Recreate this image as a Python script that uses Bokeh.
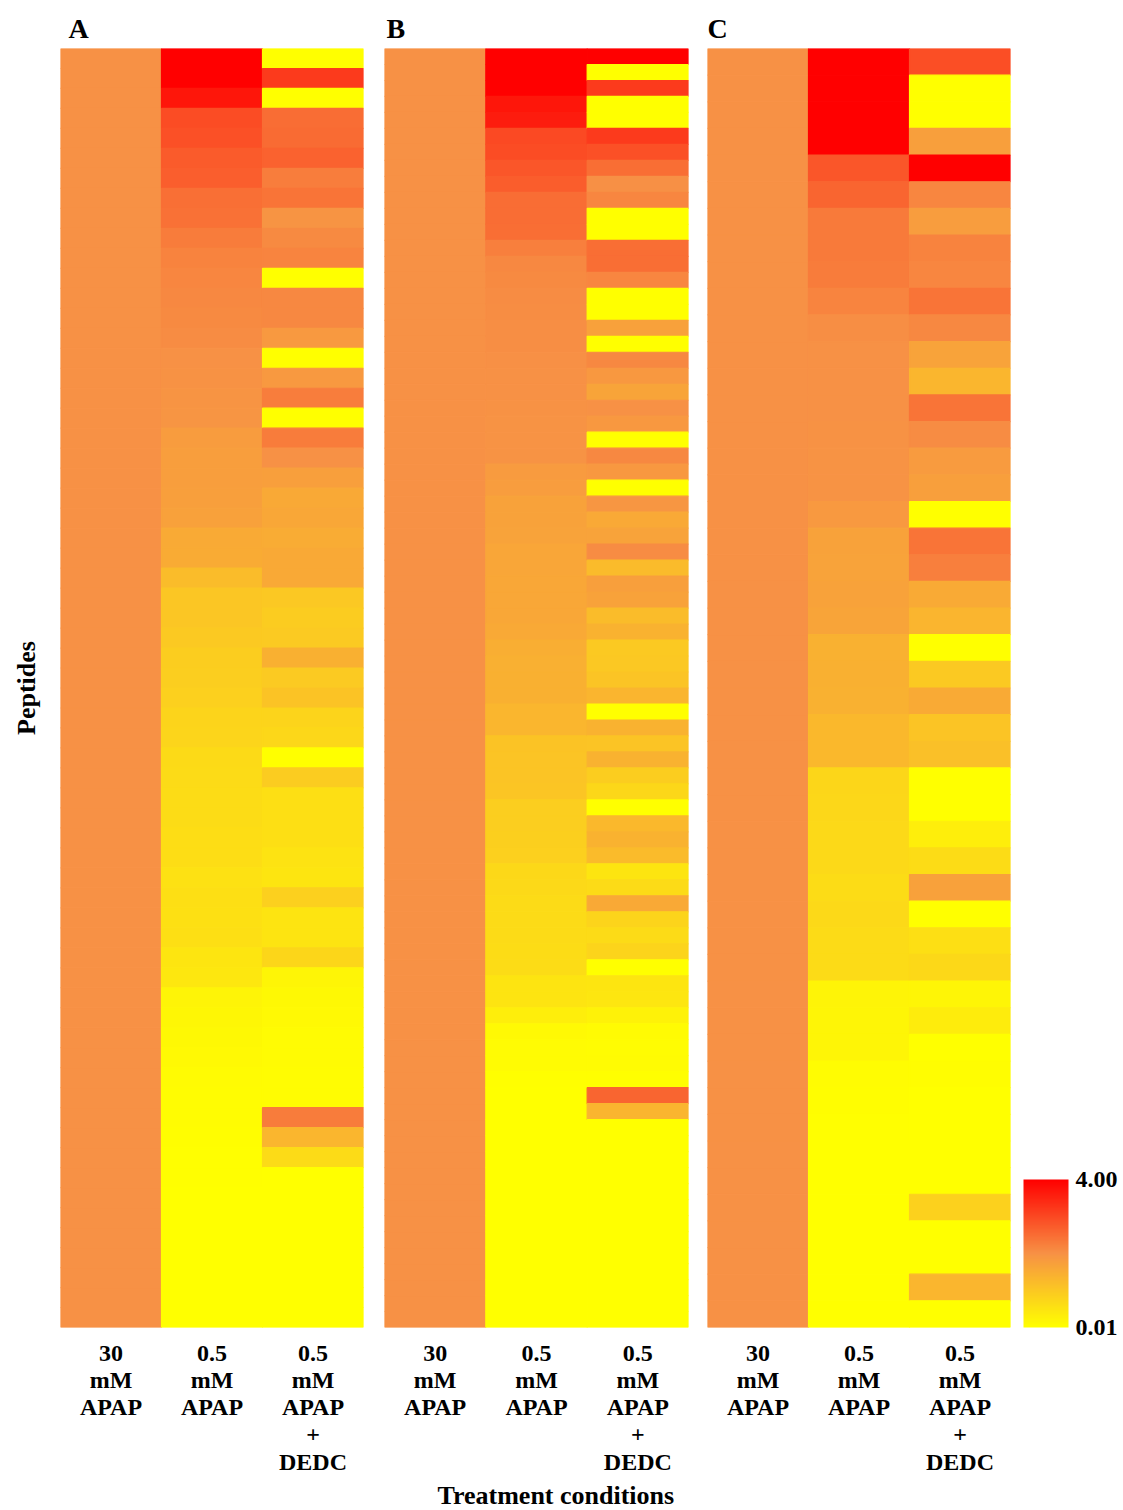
from bokeh.plotting import figure
from bokeh.layouts import row
from bokeh.models import (ColumnDataSource, LinearColorMapper, ColorBar, FixedTicker,
                          PrintfTickFormatter, Range1d, Title)
from bokeh.transform import transform
from bokeh.embed import file_html
from bokeh.resources import INLINE

# Treatment conditions (x categories)
conditions = ["30\nmM\nAPAP", "0.5\nmM\nAPAP", "0.5\nmM\nAPAP\n+\nDEDC"]

# ---- Panel A: 64 peptides ----
a_30mm = [2.0, 2.0, 2.0, 2.0, 2.0, 2.0, 2.0, 2.0, 2.0, 2.0, 2.0, 2.0, 2.0, 2.0, 2.0, 2.0,
          2.0, 2.0, 2.0, 2.0, 2.0, 2.0, 2.0, 2.0, 2.0, 2.0, 2.0, 2.0, 2.0, 2.0, 2.0, 2.0,
          2.0, 2.0, 2.0, 2.0, 2.0, 2.0, 2.0, 2.0, 2.0, 2.0, 2.0, 2.0, 2.0, 2.0, 2.0, 2.0,
          2.0, 2.0, 2.0, 2.0, 2.0, 2.0, 2.0, 2.0, 2.0, 2.0, 2.0, 2.0, 2.0, 2.0, 2.0, 2.0]
a_05mm = [4.0, 4.0, 3.7, 2.95, 2.9, 2.75, 2.7, 2.47, 2.45, 2.3, 2.2, 2.15, 2.12, 2.1, 2.08,
          2.0, 1.98, 1.95, 1.93, 1.81, 1.78,
          1.76, 1.75, 1.72, 1.55, 1.53, 1.23, 1.04, 1.05, 1.0, 0.92, 0.9, 0.88, 0.8, 0.78,
          0.69, 0.67, 0.66, 0.64, 0.63, 0.63, 0.56,
          0.6, 0.58, 0.6, 0.48, 0.45, 0.22, 0.18, 0.15, 0.12, 0.1, 0.08, 0.06, 0.05, 0.04,
          0.03, 0.02, 0.02, 0.02, 0.01, 0.01, 0.01, 0.01]
a_05mm_dedc = [0.01, 3.2, 0.01, 2.5, 2.52, 2.65, 2.27, 2.4, 1.95, 2.1, 2.18, 0.01, 2.12, 2.12,
               1.85, 0.01, 1.85, 2.27, 0.01, 2.3, 2.0,
               1.75, 1.57, 1.6, 1.52, 1.57, 1.57, 1.02, 0.94, 0.98, 1.43, 0.98, 1.1, 0.79, 0.73,
               0.01, 0.93, 0.6, 0.6, 0.6, 0.53, 0.48,
               0.88, 0.5, 0.5, 0.75, 0.2, 0.15, 0.12, 0.1, 0.09, 0.08, 0.07, 2.3, 1.34, 0.67,
               0.01, 0.01, 0.01, 0.01, 0.01, 0.01, 0.01, 0.01]

# ---- Panel B: 80 peptides ----
b_30mm = [2.0, 2.0, 2.0, 2.0, 2.0, 2.0, 2.0, 2.0, 2.0, 2.0, 2.0, 2.0, 2.0, 2.0, 2.0, 2.0,
          2.0, 2.0, 2.0, 2.0, 2.0, 2.0, 2.0, 2.0, 2.0, 2.0, 2.0, 2.0, 2.0, 2.0, 2.0, 2.0,
          2.0, 2.0, 2.0, 2.0, 2.0, 2.0, 2.0, 2.0, 2.0, 2.0, 2.0, 2.0, 2.0, 2.0, 2.0, 2.0,
          2.0, 2.0, 2.0, 2.0, 2.0, 2.0, 2.0, 2.0, 2.0, 2.0, 2.0, 2.0, 2.0, 2.0, 2.0, 2.0,
          2.0, 2.0, 2.0, 2.0, 2.0, 2.0, 2.0, 2.0, 2.0, 2.0, 2.0, 2.0, 2.0, 2.0, 2.0, 2.0]
b_05mm = [4.0, 4.0, 4.0, 3.7, 3.6, 3.0, 2.95, 2.8, 2.72, 2.5, 2.5, 2.48, 2.25, 2.12, 2.1,
          2.08, 2.06, 2.05, 2.05, 2.02, 2.0, 2.0, 1.98, 1.97, 1.97, 1.96, 1.82,
          1.8, 1.7, 1.7, 1.68, 1.62, 1.62, 1.6, 1.6, 1.6, 1.58, 1.48, 1.45, 1.44, 1.43, 1.35,
          1.34, 1.1, 1.08, 1.07, 1.06, 0.9, 0.9, 0.89, 0.88, 0.72, 0.7,
          0.68, 0.68, 0.67, 0.66, 0.65, 0.5, 0.5, 0.33, 0.12, 0.1, 0.09, 0.03, 0.02, 0.02,
          0.01, 0.01, 0.01, 0.01, 0.01, 0.01, 0.01, 0.01, 0.01, 0.01, 0.01, 0.01, 0.01]
b_05mm_dedc = [4.0, 0.01, 3.2, 0.01, 0.01, 3.2, 2.9, 2.48, 2.02, 2.15, 0.01, 0.01, 2.48, 2.48,
               2.15, 0.01, 0.01, 1.72, 0.01, 2.12, 1.88, 1.65, 2.0, 1.88, 0.01, 2.12, 1.88,
               0.01, 1.92, 1.57, 1.68, 2.08, 1.25, 1.75, 1.7, 1.23, 1.4, 1.0, 1.02, 1.08, 1.36,
               0.01, 1.4, 1.08, 1.4, 0.92, 0.73, 0.01, 1.3, 1.4, 1.25, 0.48, 0.68,
               1.58, 0.8, 0.67, 0.8, 0.01, 0.48, 0.47, 0.25, 0.1, 0.08, 0.1, 0.03, 2.6, 1.36,
               0.01, 0.01, 0.01, 0.01, 0.01, 0.01, 0.01, 0.01, 0.01, 0.01, 0.01, 0.01, 0.01]

# ---- Panel C: 48 peptides ----
c_30mm = [2.0, 2.0, 2.0, 2.0, 2.0, 2.0, 2.0, 2.0, 2.0, 2.0, 2.0, 2.0, 2.0, 2.0, 2.0, 2.0,
          2.0, 2.0, 2.0, 2.0, 2.0, 2.0, 2.0, 2.0, 2.0, 2.0, 2.0, 2.0, 2.0, 2.0, 2.0, 2.0,
          2.0, 2.0, 2.0, 2.0, 2.0, 2.0, 2.0, 2.0, 2.0, 2.0, 2.0, 2.0, 2.0, 2.0, 2.0, 2.0]
c_05mm = [4.0, 4.0, 4.0, 4.0, 2.8, 2.6, 2.32, 2.32, 2.3, 2.18, 2.04, 2.0, 2.0, 1.99, 1.98, 1.97,
          1.97, 1.85, 1.7, 1.68, 1.7, 1.67, 1.42, 1.43, 1.42, 1.3, 1.3, 0.75, 0.74, 0.7, 0.7, 0.65,
          0.7, 0.68, 0.68, 0.22, 0.2, 0.2, 0.08, 0.05, 0.03, 0.02, 0.02, 0.01, 0.01, 0.01, 0.01, 0.01]
c_05mm_dedc = [2.92, 0.01, 0.01, 1.75, 4.0, 2.15, 1.8, 2.2, 2.15, 2.4, 2.12, 1.68, 1.34, 2.4, 2.08, 1.82,
               1.75, 0.01, 2.4, 2.25, 1.55, 1.36, 0.01, 1.0, 1.55, 1.08, 1.15, 0.01, 0.01, 0.33, 0.66, 1.72,
               0.01, 0.6, 0.72, 0.2, 0.36, 0.02, 0.05, 0.01, 0.01, 0.01, 0.01, 0.85, 0.01, 0.01, 1.34, 0.01]

# Colour scale limits
scale_low, scale_high = 0.01, 4.00

# Yellow -> orange -> red gradient
stops = [(255, 255, 0), (247, 145, 69), (255, 0, 0)]
palette = []
for k in range(256):
    f = k / 255
    if f <= 0.5:
        a, b, t = stops[0], stops[1], f / 0.5
    else:
        a, b, t = stops[1], stops[2], (f - 0.5) / 0.5
    palette.append("#%02x%02x%02x" % tuple(int(round(a[j] + (b[j] - a[j]) * t)) for j in range(3)))

mapper = LinearColorMapper(palette=palette, low=scale_low, high=scale_high,
                           low_color=palette[0], high_color=palette[-1])

FONT = "Liberation Serif"
H = 1510


def heat_panel(letter, columns, width, left, right, title_offset):
    n = len(columns[0])
    xs, ys, vals = [], [], []
    for cond, col in zip(conditions, columns):
        for i, v in enumerate(col):
            xs.append(cond)
            ys.append(i + 0.5)
            vals.append(v)
    src = ColumnDataSource(dict(x=xs, y=ys, v=vals))
    p = figure(x_range=conditions, y_range=Range1d(n, 0), width=width, height=H,
               output_backend="svg", toolbar_location=None,
               min_border_left=left, min_border_right=right,
               min_border_top=48, min_border_bottom=182, title=letter)
    p.rect(x="x", y="y", width=1, height=1, source=src,
           fill_color=transform("v", mapper), line_color=transform("v", mapper), line_width=1.2)
    p.grid.visible = False
    p.outline_line_color = None
    p.background_fill_color = "white"
    p.border_fill_color = "white"

    p.title.text_font = FONT
    p.title.text_font_style = "bold"
    p.title.text_font_size = "28px"
    p.title.text_color = "black"
    p.title.align = "left"
    p.title.offset = title_offset
    p.title.standoff = 9

    ax = p.xaxis[0]
    ax.axis_line_color = None
    ax.major_tick_line_color = None
    ax.minor_tick_line_color = None
    ax.major_label_standoff = 6
    ax.major_label_text_font = FONT
    ax.major_label_text_font_style = "bold"
    ax.major_label_text_font_size = "24px"
    ax.major_label_text_color = "black"
    ax.major_label_text_line_height = 1.05
    return p


pa = heat_panel("A", [a_30mm, a_05mm, a_05mm_dedc], 373, 60, 10, 8)
pb = heat_panel("B", [b_30mm, b_05mm, b_05mm_dedc], 325, 11, 10, 2)
pc = heat_panel("C", [c_30mm, c_05mm, c_05mm_dedc], 425, 9, 113, 0)

# Row axis label on the first panel only
ya = pa.yaxis[0]
ya.ticker = FixedTicker(ticks=[])
ya.axis_label = "Peptides"
ya.axis_label_text_font = FONT
ya.axis_label_text_font_style = "bold"
ya.axis_label_text_font_size = "26px"
ya.axis_label_text_color = "black"
ya.axis_label_standoff = 20
ya.axis_line_color = None
ya.major_tick_line_color = None
ya.minor_tick_line_color = None
ya.major_label_text_font_size = "0px"
pb.yaxis.visible = False
pc.yaxis.visible = False

# Shared x-axis caption under the middle panel
pb.add_layout(Title(text="Treatment conditions", align="left", offset=53, standoff=2,
                    text_font=FONT, text_font_style="bold", text_font_size="26px",
                    text_color="black"), "below")

# Colour legend
cb = ColorBar(color_mapper=mapper, ticker=FixedTicker(ticks=[scale_low, scale_high]),
              formatter=PrintfTickFormatter(format="%.2f"),
              width=45, height=148, location=(13, 0), padding=0, margin=0,
              major_tick_line_color=None, minor_tick_line_color=None,
              bar_line_color=None, border_line_color=None, background_fill_color=None,
              label_standoff=7, major_label_text_font=FONT,
              major_label_text_font_style="bold", major_label_text_font_size="24px",
              major_label_text_color="black")
pc.add_layout(cb, "right")

layout = row(pa, pb, pc)
open("out.html", "w").write(file_html(layout, INLINE))
